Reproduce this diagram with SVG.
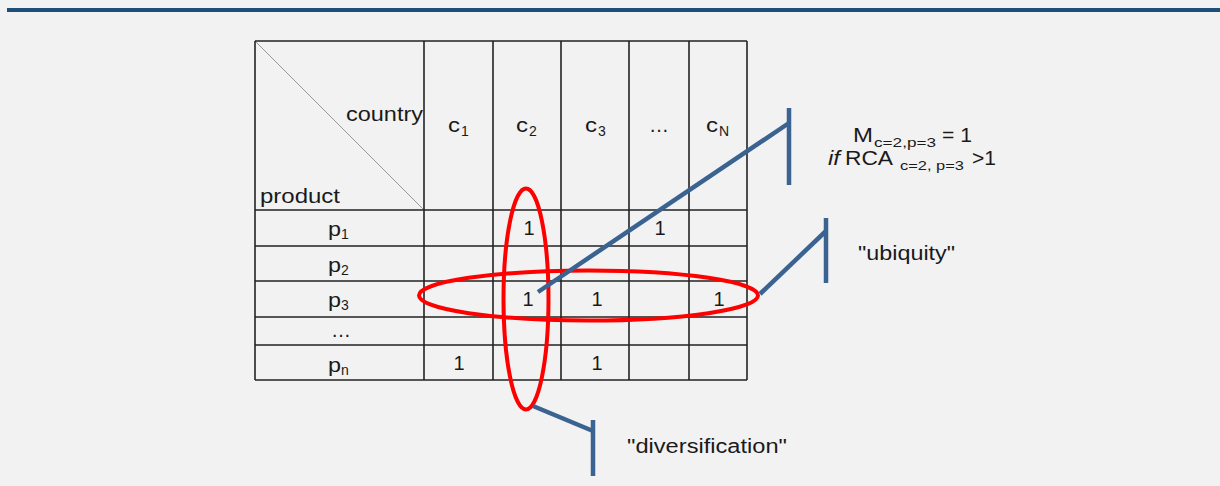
<svg xmlns="http://www.w3.org/2000/svg" width="1220" height="486" viewBox="0 0 1220 486">
<style>
text{font-family:"Liberation Sans",Arial,sans-serif;fill:#1a1a1a}
.t{font-size:20px}
.L{font-size:21px}
.s{font-size:14px}
.f{font-size:13px}
.c{text-anchor:middle}
.grid line{stroke:#222;stroke-width:1.6}
.red{fill:none;stroke:#ff0000;stroke-width:4}
.blue{fill:none;stroke:#3b6391;stroke-width:4.5;stroke-linecap:butt}
</style>
<rect width="1220" height="486" fill="#f2f2f2"/>
<rect x="7" y="8" width="1213" height="4" fill="#1f4e79"/>

<g id="matrix">
  <rect x="255" y="41" width="492" height="339" fill="#f2f2f2"/>
  <line x1="255" y1="41" x2="424" y2="210" stroke="#9a9a9a" stroke-width="1"/>
  <g class="grid">
    <line x1="255" y1="41" x2="747" y2="41"/>
    <line x1="255" y1="210" x2="747" y2="210"/>
    <line x1="255" y1="246" x2="747" y2="246"/>
    <line x1="255" y1="281" x2="747" y2="281"/>
    <line x1="255" y1="317" x2="747" y2="317"/>
    <line x1="255" y1="345" x2="747" y2="345"/>
    <line x1="255" y1="380" x2="747" y2="380"/>
    <line x1="255" y1="41" x2="255" y2="380"/>
    <line x1="424" y1="41" x2="424" y2="380"/>
    <line x1="493" y1="41" x2="493" y2="380"/>
    <line x1="561" y1="41" x2="561" y2="380"/>
    <line x1="629" y1="41" x2="629" y2="380"/>
    <line x1="689" y1="41" x2="689" y2="380"/>
    <line x1="747" y1="41" x2="747" y2="380"/>
  </g>
  <text class="t" x="346" y="121" textLength="77" lengthAdjust="spacingAndGlyphs">country</text>
  <text class="t" x="260" y="203" textLength="80" lengthAdjust="spacingAndGlyphs">product</text>

  <text class="L" x="448" y="132" textLength="12" lengthAdjust="spacingAndGlyphs">c</text><text class="s" x="461" y="136">1</text>
  <text class="L" x="516" y="132" textLength="12" lengthAdjust="spacingAndGlyphs">c</text><text class="s" x="529" y="136">2</text>
  <text class="L" x="585" y="132" textLength="12" lengthAdjust="spacingAndGlyphs">c</text><text class="s" x="598" y="136">3</text>
  <text class="t c" x="659" y="132">…</text>
  <text class="L" x="706" y="132" textLength="12" lengthAdjust="spacingAndGlyphs">c</text><text class="s" x="719" y="136">N</text>

  <text class="L" x="328" y="236" textLength="13" lengthAdjust="spacingAndGlyphs">p</text><text class="s" x="341" y="239">1</text>
  <text class="L" x="328" y="272" textLength="13" lengthAdjust="spacingAndGlyphs">p</text><text class="s" x="341" y="275">2</text>
  <text class="L" x="328" y="307" textLength="13" lengthAdjust="spacingAndGlyphs">p</text><text class="s" x="341" y="310">3</text>
  <text class="t c" x="341" y="337">…</text>
  <text class="L" x="328" y="372" textLength="13" lengthAdjust="spacingAndGlyphs">p</text><text class="s" x="341" y="375">n</text>

  <text class="t c" x="529" y="235">1</text>
  <text class="t c" x="660" y="235">1</text>
  <text class="t c" x="528" y="306">1</text>
  <text class="t c" x="597" y="306">1</text>
  <text class="t c" x="719" y="306">1</text>
  <text class="t c" x="459" y="370">1</text>
  <text class="t c" x="597" y="370">1</text>
</g>

<g id="ellipses">
  <ellipse class="red" cx="526" cy="299" rx="22.5" ry="110.5"/>
  <ellipse class="red" cx="588.5" cy="295.5" rx="169.5" ry="25"/>
</g>

<g id="connectors">
  <polyline class="blue" points="538,292 789,123"/>
  <line class="blue" x1="789" y1="108" x2="789" y2="185"/>
  <polyline class="blue" points="760,294 826,231"/>
  <line class="blue" x1="826" y1="218" x2="826" y2="283"/>
  <polyline class="blue" points="533,406 593,431"/>
  <line class="blue" x1="593" y1="420" x2="593" y2="476"/>
</g>

<g id="label-rca">
  <text class="t" x="853" y="142" textLength="20" lengthAdjust="spacingAndGlyphs">M</text>
  <text class="f" x="874" y="147" textLength="62" lengthAdjust="spacingAndGlyphs">c=2,p=3</text>
  <text class="t" x="942" y="142" textLength="30" lengthAdjust="spacingAndGlyphs">= 1</text>
  <text class="t" x="828" y="165" font-style="italic" textLength="12" lengthAdjust="spacingAndGlyphs">if</text>
  <text class="t" x="845" y="165" textLength="48" lengthAdjust="spacingAndGlyphs">RCA</text>
  <text class="f" x="900" y="170" textLength="64" lengthAdjust="spacingAndGlyphs">c=2, p=3</text>
  <text class="t" x="972" y="165" textLength="24" lengthAdjust="spacingAndGlyphs">&gt;1</text>
</g>

<g id="label-ubiquity">
  <text class="t" x="858" y="260" textLength="97" lengthAdjust="spacingAndGlyphs">"ubiquity"</text>
</g>

<g id="label-diversification">
  <text class="t" x="627" y="453" textLength="160" lengthAdjust="spacingAndGlyphs">"diversification"</text>
</g>
</svg>
